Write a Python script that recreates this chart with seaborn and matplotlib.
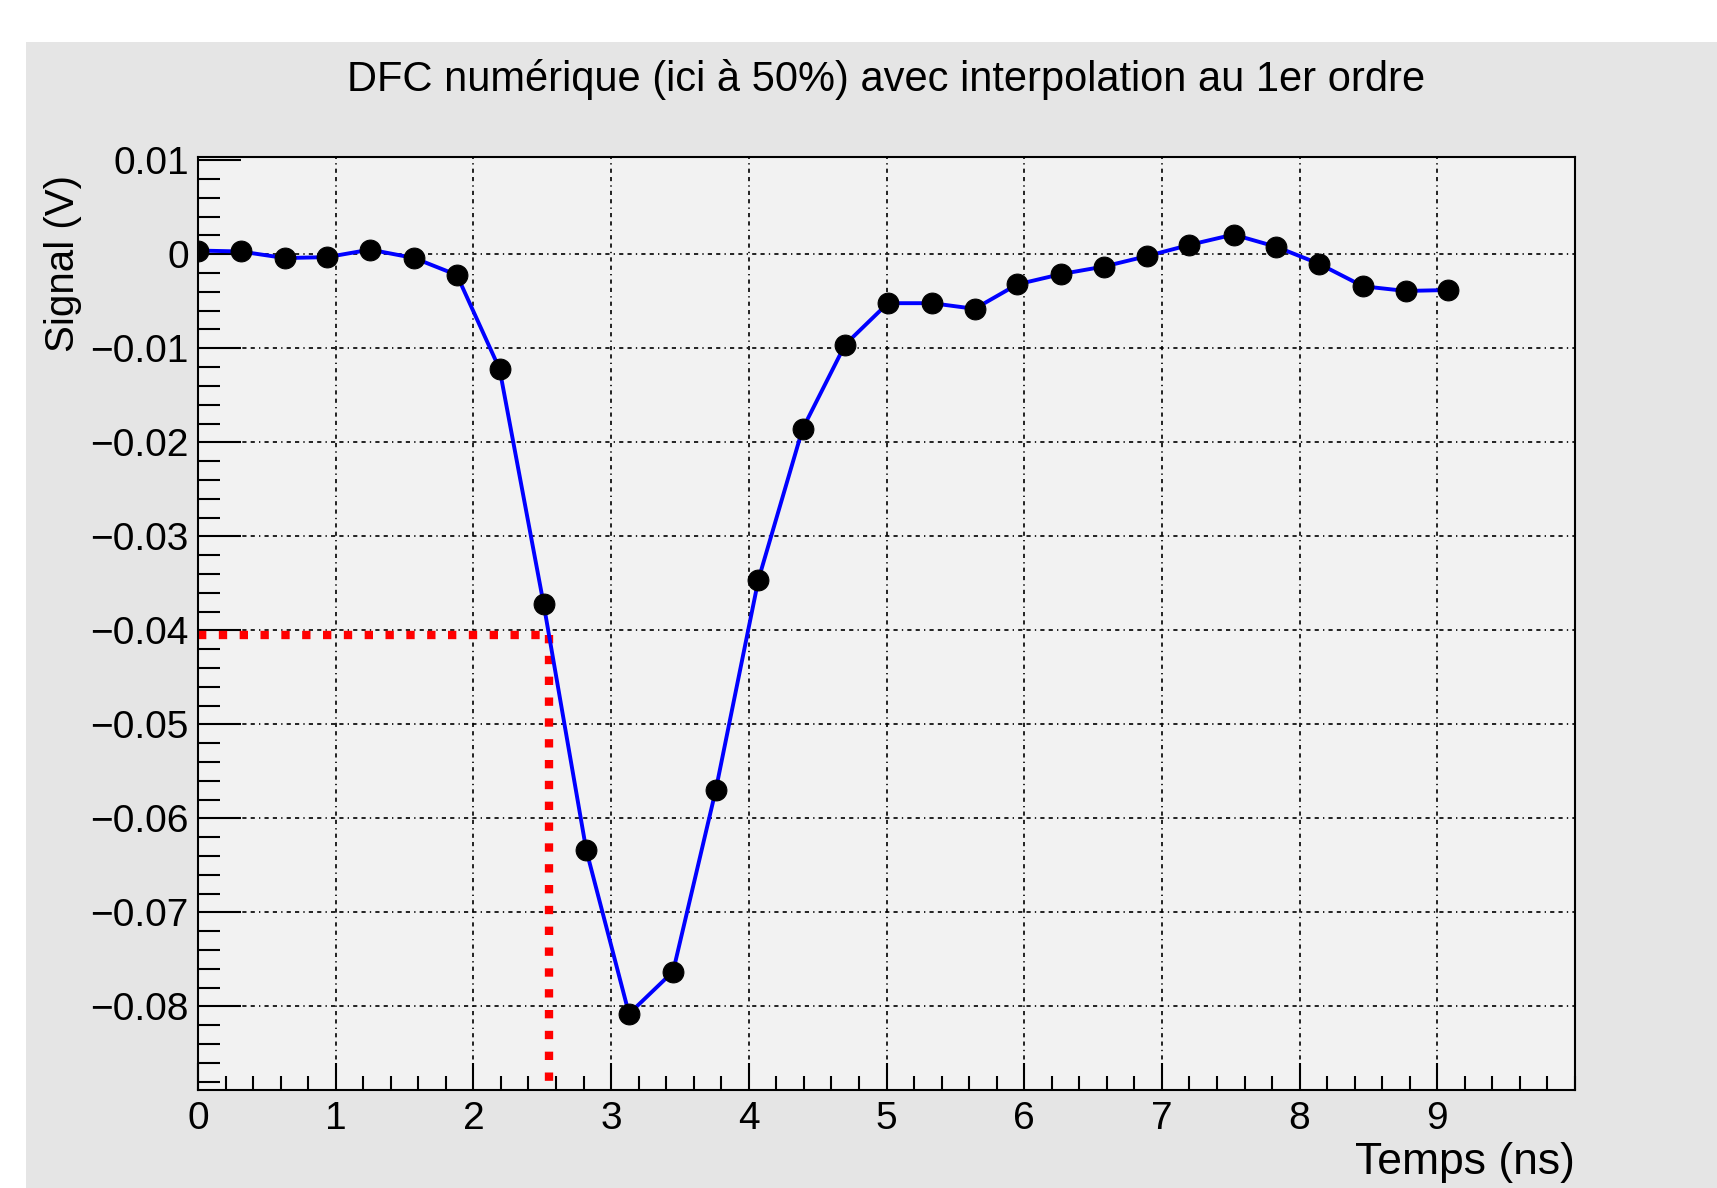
import matplotlib
matplotlib.use("Agg")
import matplotlib.pyplot as plt
import seaborn as sns
import pandas as pd
from matplotlib.patches import Rectangle
from matplotlib.ticker import MultipleLocator, FuncFormatter

# samples (time in ns, signal in V)
temps = [0.00, 0.31, 0.63, 0.94, 1.25, 1.57, 1.88, 2.19, 2.51, 2.82,
         3.13, 3.45, 3.76, 4.07, 4.39, 4.70, 5.01, 5.33, 5.64, 5.95,
         6.27, 6.58, 6.89, 7.20, 7.52, 7.83, 8.14, 8.46, 8.77, 9.08]
signal = [0.0004, 0.0003, -0.0004, -0.0003, 0.0005, -0.0004, -0.0022, -0.0122, -0.0372, -0.0634,
          -0.0808, -0.0763, -0.0570, -0.0346, -0.0186, -0.0096, -0.0052, -0.0052, -0.0058, -0.0032,
          -0.0021, -0.0013, -0.0002, 0.0010, 0.0021, 0.0008, -0.0010, -0.0034, -0.0039, -0.0038]

# constant fraction threshold (50%) and crossing time
seuil = -0.0405
t_seuil = 2.55

titre = "DFC numérique (ici à 50%) avec interpolation au 1er ordre"
xlabel = "Temps (ns)"
ylabel = "Signal (V)"

df = pd.DataFrame({"temps": temps, "signal": signal})

sns.set_style("ticks")
plt.rcParams["font.family"] = ["Liberation Sans", "DejaVu Sans"]
plt.rcParams["text.color"] = "black"
plt.rcParams["axes.labelcolor"] = "black"
plt.rcParams["xtick.color"] = "black"
plt.rcParams["ytick.color"] = "black"

W, H = 1717, 1188
fig = plt.figure(figsize=(W / 100, H / 100), dpi=100, facecolor="white")
fig.patches.append(Rectangle((26 / W, 0), 1 - 26 / W, 1 - 42 / H,
                             transform=fig.transFigure, facecolor="#e5e5e5",
                             edgecolor="none", zorder=-10))

ax = fig.add_axes([198 / W, (H - 1090) / H, 1377 / W, 933 / H])
ax.set_zorder(1)
ax.set_facecolor("#f2f2f2")

grid_ls = (0, (2.5, 2.5, 2.5, 2.5, 0.8, 2.5))
for gx in range(1, 10):
    ax.axvline(gx, color="black", lw=1.2, ls=grid_ls, zorder=1)
for gy in [0.0, -0.01, -0.02, -0.03, -0.04, -0.05, -0.06, -0.07, -0.08]:
    ax.axhline(gy, color="black", lw=1.2, ls=grid_ls, zorder=1)

# red dotted lines: 50% level and crossing time
ax.plot([0, t_seuil], [seuil, seuil], color="red", lw=6, ls=(0, (1, 1.5)), zorder=2.5)
ax.plot([t_seuil, t_seuil], [seuil, -0.0889], color="red", lw=6, ls=(0, (1, 1.5)), zorder=2.5)

sns.lineplot(data=df, x="temps", y="signal", ax=ax, color="blue", lw=2.8,
             marker="o", markersize=15, markerfacecolor="black",
             markeredgecolor="black", sort=False, zorder=3)

ax.set_xlim(0, 10)
ax.set_ylim(-0.0889, 0.01035)

ax.set_xticks(range(0, 10))
ax.xaxis.set_minor_locator(MultipleLocator(0.2))
ax.yaxis.set_major_locator(MultipleLocator(0.01))
ax.yaxis.set_minor_locator(MultipleLocator(0.002))


def fmt_y(v, pos):
    if abs(v) < 1e-9:
        return "0"
    return f"{v:.2f}".replace("-", "\u2212")


ax.yaxis.set_major_formatter(FuncFormatter(fmt_y))

ax.tick_params(axis="x", which="major", direction="in", length=19.5, width=1.5,
               labelsize=28, pad=8, top=False)
ax.tick_params(axis="x", which="minor", direction="in", length=10, width=1.5, top=False)
ax.tick_params(axis="y", which="major", direction="in", length=31, width=1.5,
               labelsize=28, pad=6.5, right=False)
ax.tick_params(axis="y", which="minor", direction="in", length=16, width=1.5, right=False)

for sp in ax.spines.values():
    sp.set_visible(True)
    sp.set_linewidth(1.5)
    sp.set_color("black")

ax.set_xlabel(xlabel, fontsize=32, ha="right", va="center")
ax.xaxis.set_label_coords(1.0, -0.0782)
ax.set_ylabel(ylabel, fontsize=29, ha="right", va="bottom")
ax.yaxis.set_label_coords(-0.0842, 0.981)

fig.text(886 / W, 1 - 80 / H, titre, ha="center", va="center", fontsize=30)

fig.savefig("out.png", dpi=100, facecolor=fig.get_facecolor())
